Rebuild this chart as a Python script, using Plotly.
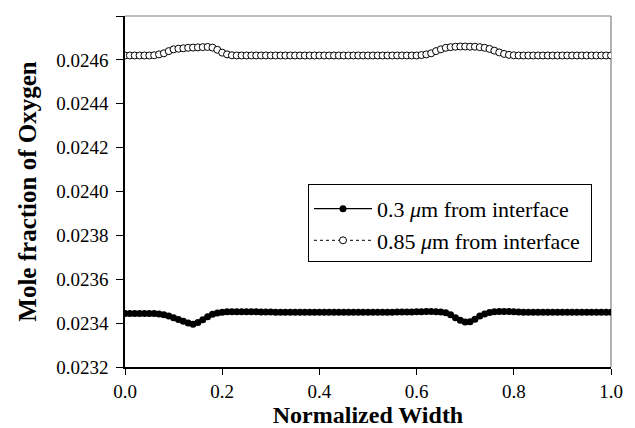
import plotly.graph_objects as go

x_width = [0.00, 0.01, 0.02, 0.03, 0.04, 0.05, 0.06, 0.07, 0.08, 0.09,
           0.10, 0.11, 0.12, 0.13, 0.14, 0.15, 0.16, 0.17, 0.18, 0.19,
           0.20, 0.21, 0.22, 0.23, 0.24, 0.25, 0.26, 0.27, 0.28, 0.29,
           0.30, 0.31, 0.32, 0.33, 0.34, 0.35, 0.36, 0.37, 0.38, 0.39,
           0.40, 0.41, 0.42, 0.43, 0.44, 0.45, 0.46, 0.47, 0.48, 0.49,
           0.50, 0.51, 0.52, 0.53, 0.54, 0.55, 0.56, 0.57, 0.58, 0.59,
           0.60, 0.61, 0.62, 0.63, 0.64, 0.65, 0.66, 0.67, 0.68, 0.69,
           0.70, 0.71, 0.72, 0.73, 0.74, 0.75, 0.76, 0.77, 0.78, 0.79,
           0.80, 0.81, 0.82, 0.83, 0.84, 0.85, 0.86, 0.87, 0.88, 0.89,
           0.90, 0.91, 0.92, 0.93, 0.94, 0.95, 0.96, 0.97, 0.98, 0.99,
           1.00]

o2_03um = [0.023444, 0.023444, 0.023444, 0.023444, 0.023444, 0.023444, 0.023444, 0.023442, 0.023438, 0.023432,
           0.023425, 0.023417, 0.023408, 0.023400, 0.023395, 0.023403, 0.023415, 0.023429, 0.023440, 0.023446,
           0.023450, 0.023452, 0.023452, 0.023452, 0.023452, 0.023452, 0.023452, 0.023452, 0.023451, 0.023451,
           0.023451, 0.023450, 0.023450, 0.023450, 0.023450, 0.023450, 0.023450, 0.023450, 0.023450, 0.023450,
           0.023450, 0.023450, 0.023450, 0.023450, 0.023450, 0.023450, 0.023450, 0.023450, 0.023450, 0.023450,
           0.023450, 0.023450, 0.023450, 0.023450, 0.023450, 0.023450, 0.023451, 0.023451, 0.023451, 0.023451,
           0.023452, 0.023452, 0.023453, 0.023453, 0.023452, 0.023451, 0.023447, 0.023438, 0.023425, 0.023413,
           0.023405, 0.023406, 0.023418, 0.023432, 0.023442, 0.023448, 0.023452, 0.023453, 0.023453, 0.023453,
           0.023452, 0.023451, 0.023450, 0.023450, 0.023450, 0.023450, 0.023450, 0.023450, 0.023450, 0.023450,
           0.023450, 0.023450, 0.023450, 0.023450, 0.023450, 0.023450, 0.023450, 0.023450, 0.023450, 0.023450,
           0.023450]

o2_085um = [0.024620, 0.024620, 0.024620, 0.024620, 0.024620, 0.024620, 0.024621, 0.024625, 0.024630, 0.024640,
            0.024648, 0.024651, 0.024653, 0.024655, 0.024656, 0.024657, 0.024658, 0.024659, 0.024656, 0.024646,
            0.024633, 0.024625, 0.024621, 0.024620, 0.024620, 0.024620, 0.024620, 0.024620, 0.024620, 0.024620,
            0.024620, 0.024620, 0.024620, 0.024620, 0.024620, 0.024620, 0.024620, 0.024620, 0.024620, 0.024620,
            0.024620, 0.024620, 0.024620, 0.024620, 0.024620, 0.024620, 0.024620, 0.024620, 0.024620, 0.024620,
            0.024620, 0.024620, 0.024620, 0.024620, 0.024620, 0.024620, 0.024620, 0.024620, 0.024620, 0.024620,
            0.024620, 0.024622, 0.024625, 0.024630, 0.024640, 0.024648, 0.024655, 0.024658, 0.024660, 0.024661,
            0.024661, 0.024660, 0.024660, 0.024658, 0.024655, 0.024650, 0.024642, 0.024634, 0.024627, 0.024623,
            0.024621, 0.024620, 0.024620, 0.024620, 0.024620, 0.024620, 0.024620, 0.024620, 0.024620, 0.024620,
            0.024620, 0.024620, 0.024620, 0.024620, 0.024620, 0.024620, 0.024620, 0.024620, 0.024620, 0.024620,
            0.024620]

series_names = ["0.3 <i>μ</i>m from interface", "0.85 <i>μ</i>m from interface"]
x_ticks = [0.0, 0.2, 0.4, 0.6, 0.8, 1.0]
y_ticks = [0.0232, 0.0234, 0.0236, 0.0238, 0.0240, 0.0242, 0.0244, 0.0246, 0.0248]

FONT = "'Times New Roman', 'Liberation Serif', Tinos, 'DejaVu Serif', serif"
PAD = "\u00a0"  # right padding inside the legend box

fig = go.Figure()
fig.add_trace(go.Scatter(
    x=x_width, y=o2_03um, name=series_names[0] + PAD, mode="lines+markers",
    line=dict(color="black", width=1.2),
    marker=dict(symbol="circle", size=7, color="black"),
))
fig.add_trace(go.Scatter(
    x=x_width, y=o2_085um, name=series_names[1] + PAD, mode="lines+markers",
    line=dict(color="black", width=1, dash="dot"),
    marker=dict(symbol="circle", size=7, color="white", line=dict(color="black", width=1)),
))

# page body has an 8px default margin, so the figure is offset by 8px
fig.update_layout(
    width=627, height=420,
    margin=dict(l=117, r=24, t=8, b=61, autoexpand=False),
    paper_bgcolor="white", plot_bgcolor="white",
    font=dict(family=FONT, size=19, color="black"),
    showlegend=True,
    legend=dict(
        x=0.3765, y=0.5205, xanchor="left", yanchor="top",
        bgcolor="white", bordercolor="black", borderwidth=1,
        font=dict(family=FONT, size=22, color="black"),
        itemwidth=58, tracegroupgap=0,
        title=dict(text=" ", font=dict(size=2)),
    ),
    xaxis=dict(
        range=[0, 1], tickvals=x_ticks, tickformat=".1f",
        showgrid=False, zeroline=False, automargin=False,
        showline=True, linecolor="black", linewidth=1.5,
        ticks="outside", ticklen=6, tickcolor="black", tickwidth=1.2,
        tickfont=dict(family=FONT, size=19, color="black"),
        title=dict(text="<b>Normalized Width</b>", standoff=6,
                   font=dict(family=FONT, size=24, color="black")),
    ),
    yaxis=dict(
        range=[0.0232, 0.0248], tickvals=y_ticks, tickformat=".4f",
        showgrid=False, zeroline=False, automargin=False,
        showline=True, linecolor="black", linewidth=1.5,
        ticks="outside", ticklen=7, tickcolor="black", tickwidth=1.2,
        ticklabelstandoff=4,
        tickfont=dict(family=FONT, size=19, color="black"),
        title=dict(text="<b>Mole fraction of Oxygen</b>", standoff=12,
                   font=dict(family=FONT, size=25, color="black")),
    ),
    shapes=[
        dict(type="line", xref="paper", yref="paper", x0=0, x1=1, y0=1, y1=1,
             line=dict(color="#808080", width=1.2), layer="below"),
        dict(type="line", xref="paper", yref="paper", x0=1, x1=1, y0=0, y1=1,
             line=dict(color="#808080", width=1.2), layer="below"),
    ],
)

fig.write_html("out.html")
